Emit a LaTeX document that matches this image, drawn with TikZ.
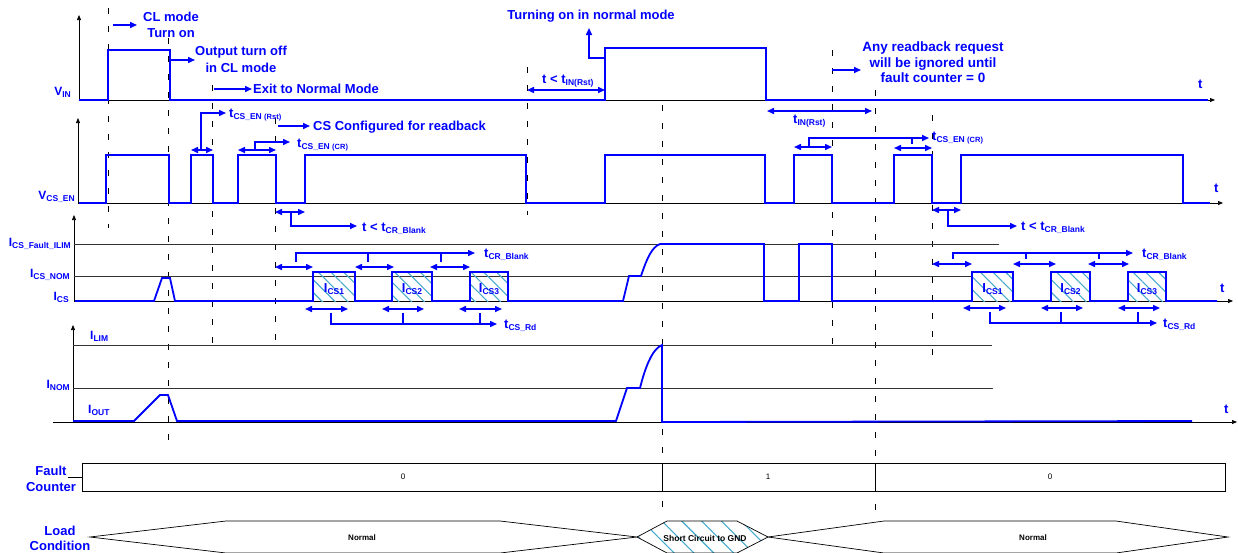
\documentclass[tikz,border=0pt]{standalone}
\usepackage{fontspec}
\setmainfont{Liberation Sans}
\usetikzlibrary{arrows.meta,patterns.meta}
\definecolor{sigblue}{RGB}{0,0,255}
\definecolor{hatchteal}{RGB}{70,170,205}
\newcommand{\lowsub}[1]{\raisebox{-2.5pt}{\fontsize{8.5}{9}\selectfont #1}}
\newcommand{\lowpar}[1]{{\fontsize{7.5}{8}\selectfont #1}}

\begin{document}
\begin{tikzpicture}[x=1pt, y=-1pt,
    sig/.style={sigblue, line width=1.8pt},
    axisline/.style={black, line width=0.7pt, -{Triangle[length=5pt,width=4pt]}},
    refline/.style={black!80, line width=0.7pt},
    tmark/.style={black, line width=0.7pt, dash pattern=on 6pt off 12pt},
    ann/.style={sigblue, line width=1.5pt, -{Triangle[length=7pt,width=6pt]}},
    dbl/.style={sigblue, line width=1.5pt, {Triangle[length=7pt,width=6pt]}-{Triangle[length=7pt,width=6pt]}},
    brk/.style={sigblue, line width=1.5pt},
    lbl/.style={sigblue, font=\fontsize{13}{16}\selectfont\bfseries, inner sep=0pt},
    rowlbl/.style={sigblue, font=\fontsize{12}{16}\selectfont\bfseries, inner sep=0pt},
    tinytxt/.style={black, font=\fontsize{8}{9}\selectfont, inner sep=0pt},
    hatchA/.style={pattern={Lines[angle=-45,distance=9pt,line width=1.1pt]}, pattern color=hatchteal},
    hatchB/.style={pattern={Lines[angle=-45,distance=14pt,line width=1.1pt]}, pattern color=hatchteal}]
  \useasboundingbox (0,0) rectangle (1238,552);

  % time markers
  \foreach \x/\ya/\yb in {108/8/228, 168/38/440, 212/85/345, 275/118/340, 527/67/215,
                          662/105/517, 832/50/345, 875/90/517, 932/115/358}
    \draw[tmark] (\x,\ya) -- (\x,\yb);

  % V_IN
  \draw[axisline] (79,101) -- (79,15);
  \draw[axisline] (79,100) -- (1215,100);
  \draw[sig] (79,100) -- (108,100) -- (108,50) -- (170,50) -- (170,100) -- (605,100)
    -- (605,48) -- (766,48) -- (766,100) -- (1208,100);

  % V_CS_EN
  \draw[axisline] (78,203) -- (78,118);
  \draw[axisline] (78,203) -- (1223,203);
  \draw[sig] (79,203) -- (106,203) -- (106,155) -- (169,155) -- (169,203) -- (191,203)
    -- (191,155) -- (213,155) -- (213,203) -- (238,203) -- (238,155) -- (276,155)
    -- (276,203) -- (305,203) -- (305,155) -- (526,155) -- (526,203) -- (605,203)
    -- (605,155) -- (765,155) -- (765,203) -- (794,203) -- (794,155) -- (832,155)
    -- (832,203) -- (894,203) -- (894,155) -- (932,155) -- (932,203) -- (961,203)
    -- (961,155) -- (1183,155) -- (1183,203) -- (1210,203);

  % I_CS
  \draw[axisline] (74,302) -- (74,215);
  \draw[axisline] (74,301) -- (1233,301);
  \draw[refline] (74,244) -- (999,244);
  \draw[refline] (74,276) -- (972,276);
  \foreach \a/\b/\n [count=\k] in {313/355/1, 392/432/2, 470/508/3,
                                  972/1013/1, 1051/1090/2, 1128/1166/3} {
    \fill[hatchA] (\a,272) rectangle (\b,301);
    \node[lbl, anchor=base] (ics\k) at ({(\a+\b)/2},292) {I\lowsub{CS\n}};
  }
  \draw[sig] (75,301) -- (154,301) -- (162,278) -- (170,278) -- (175,301) -- (313,301)
    -- (313,272) -- (355,272) -- (355,301) -- (392,301) -- (392,272) -- (432,272)
    -- (432,301) -- (470,301) -- (470,272) -- (508,272) -- (508,301) -- (623,301)
    -- (629,276) -- (641,276) .. controls (647,258) and (652,247) .. (660,244)
    -- (764,244) -- (764,301) -- (799,301) -- (799,244) -- (832,244) -- (832,301)
    -- (972,301) -- (972,272) -- (1013,272) -- (1013,301) -- (1051,301) -- (1051,272)
    -- (1090,272) -- (1090,301) -- (1128,301) -- (1128,272) -- (1166,272) -- (1166,301)
    -- (1217,301);

  % I_OUT
  \draw[axisline] (73,422) -- (73,325);
  \draw[axisline] (53,422) -- (1237,422);
  \draw[refline] (73,345) -- (992,345);
  \draw[refline] (73,388) -- (993,388);
  \draw[sig] (73,421) -- (134,421) -- (160,395) -- (168,395) -- (177,421) -- (616,421)
    -- (627,388) -- (640,388) .. controls (645,368) and (652,349) .. (662,345)
    -- (662,422) -- (1192,421);

  % fault counter
  \draw[black, line width=0.8pt] (82,463) rectangle (1225,491);
  \draw[black, line width=0.8pt] (662,463) -- (662,491) (875,463) -- (875,491);
  \draw[black, line width=0.8pt] (68,477) -- (82,477);
  \node[tinytxt] (cnt0a) at (403,477) {0};
  \node[tinytxt] (cnt1) at (768,477) {1};
  \node[tinytxt] (cnt0b) at (1050,477) {0};

  % load condition
  \fill[hatchB] (637,537) -- (667,521) -- (737,521) -- (768,537) -- (737,553) -- (667,553) -- cycle;
  \draw[black, line width=0.7pt] (90,537) -- (226,521) -- (500,521) -- (637,537) -- (500,553) -- (226,553) -- cycle;
  \draw[black, line width=0.7pt] (637,537) -- (667,521) -- (737,521) -- (768,537) -- (737,553) -- (667,553) -- cycle;
  \draw[black, line width=0.7pt] (768,537) -- (884,521) -- (1116,521) -- (1228,537) -- (1116,553) -- (884,553) -- cycle;
  \node[tinytxt, font=\fontsize{8}{9}\selectfont\bfseries] (loadA) at (362,538) {Normal};
  \node[tinytxt, font=\fontsize{8.5}{9}\selectfont\bfseries] (loadB) at (705,538) {Short Circuit to GND};
  \node[tinytxt, font=\fontsize{8}{9}\selectfont\bfseries] (loadC) at (1033,538) {Normal};

  % annotations, top
  \draw[ann] (113,25) -- (137,25);
  \draw[ann] (171,60) -- (195,60);
  \draw[ann] (214,89) -- (252,89);
  \draw[ann] (278,126) -- (310,126);
  \draw[ann] (832,70) -- (861,70);
  \draw[ann] (605,58) -- (589,58) -- (589,28);
  \draw[dbl] (527,90) -- (605,90);
  \draw[dbl] (767,111) -- (872,111);
  \draw[dbl] (191,150) -- (213,150);
  \draw[ann] (201,150) |- (226,113);
  \draw[dbl] (238,150) -- (276,150);
  \draw[ann] (255,150) |- (290,142);
  \draw[dbl] (794,147) -- (832,147);
  \draw[dbl] (894,148) -- (932,148);
  \draw[ann] (809,147) |- (929,138);
  \draw[brk] (912,138) -- (912,144);

  % annotations, I_CS
  \draw[dbl] (275,212) -- (305,212);
  \draw[ann] (291,212) |- (357,226);
  \draw[dbl] (932,210) -- (961,210);
  \draw[ann] (948,210) |- (1017,226);
  \foreach \a/\b in {275/313, 355/394, 430/470}
    \draw[dbl] (\a,267) -- (\b,267);
  \draw[ann] (296,262) |- (475,253);
  \draw[brk] (368,253) -- (368,262) (441,253) -- (441,262);
  \foreach \a/\b in {932/972, 1013/1056, 1088/1129}
    \draw[dbl] (\a,264) -- (\b,264);
  \draw[ann] (953,259) |- (1133,253);
  \draw[brk] (1026,253) -- (1026,259) (1099,253) -- (1099,259);
  \foreach \a/\b in {305/348, 382/424, 459/502}
    \draw[dbl] (\a,309) -- (\b,309);
  \draw[ann] (331,313) |- (497,324);
  \draw[brk] (403,324) -- (403,313) (480,324) -- (480,313);
  \foreach \a/\b in {963/1006, 1041/1083, 1118/1160}
    \draw[dbl] (\a,308) -- (\b,308);
  \draw[ann] (990,312) |- (1157,323);
  \draw[brk] (1061,323) -- (1061,312) (1138,323) -- (1138,312);

  % row labels
  \node[rowlbl, anchor=base east] (vin) at (71,95) {V\lowsub{IN}};
  \node[rowlbl, anchor=base east] (vcsen) at (75,199) {V\lowsub{CS\_EN}};
  \node[rowlbl, anchor=base east] (icsfault) at (71,246) {I\lowsub{CS\_Fault\_ILIM}};
  \node[rowlbl, anchor=base east] (icsnom) at (70,277) {I\lowsub{CS\_NOM}};
  \node[rowlbl, anchor=base east] (ics) at (69,300) {I\lowsub{CS}};
  \node[rowlbl, anchor=base west] (ilim) at (90,339) {I\lowsub{LIM}};
  \node[rowlbl, anchor=base east] (inom) at (70,388) {I\lowsub{NOM}};
  \node[rowlbl, anchor=base west] (iout) at (88,413) {I\lowsub{OUT}};
  \node[lbl, align=center, anchor=north] (fault) at (51,466) {Fault\\Counter};
  \node[lbl, align=center, anchor=north, font=\fontsize{13}{15}\selectfont\bfseries] (load) at (60,526) {Load\\Condition};
  \node[lbl, anchor=base west] (tvin) at (1198,88) {t};
  \node[lbl, anchor=base west] (tvcs) at (1214,192) {t};
  \node[lbl, anchor=base west] (tics) at (1220,292) {t};
  \node[lbl, anchor=base west] (tiout) at (1224,413) {t};

  % annotation labels
  \node[lbl, align=center, anchor=north] (clmode) at (171,12) {CL mode\\Turn on};
  \node[lbl, align=center, anchor=north, font=\fontsize{13}{17}\selectfont\bfseries] (turnoff) at (241,46) {Output turn off\\in CL mode};
  \node[lbl, anchor=base west] (exitnm) at (253,93) {Exit to Normal Mode};
  \node[lbl, anchor=base west] (csconf) at (313,130) {CS Configured for readback};
  \node[lbl, anchor=base west] (tcsrst) at (229,117) {t\lowsub{CS\_EN \lowpar{(Rst)}}};
  \node[lbl, anchor=base west] (tcscrA) at (297,147) {t\lowsub{CS\_EN \lowpar{(CR)}}};
  \node[lbl, anchor=base] (turnon) at (591,19) {Turning on in normal mode};
  \node[lbl, anchor=base west] (tltin) at (542,83) {t < t\lowsub{IN(Rst)}};
  \node[lbl, anchor=base west] (tinrst) at (793,123) {t\lowsub{IN(Rst)}};
  \node[lbl, align=center, anchor=north, font=\fontsize{13.5}{15.5}\selectfont\bfseries] (ignored) at (933,42) {Any readback request\\will be ignored until\\fault counter = 0};
  \node[lbl, anchor=base west] (tcscrB) at (932,140) {t\lowsub{CS\_EN \lowpar{(CR)}}};
  \node[lbl, anchor=base west] (tltcrA) at (362,231) {t < t\lowsub{CR\_Blank}};
  \node[lbl, anchor=base west] (tltcrB) at (1021,230) {t < t\lowsub{CR\_Blank}};
  \node[lbl, anchor=base west] (tcrA) at (484,257) {t\lowsub{CR\_Blank}};
  \node[lbl, anchor=base west] (tcrB) at (1142,257) {t\lowsub{CR\_Blank}};
  \node[lbl, anchor=base west] (tcsrdA) at (504,328) {t\lowsub{CS\_Rd}};
  \node[lbl, anchor=base west] (tcsrdB) at (1163,327) {t\lowsub{CS\_Rd}};
\end{tikzpicture}
\end{document}
